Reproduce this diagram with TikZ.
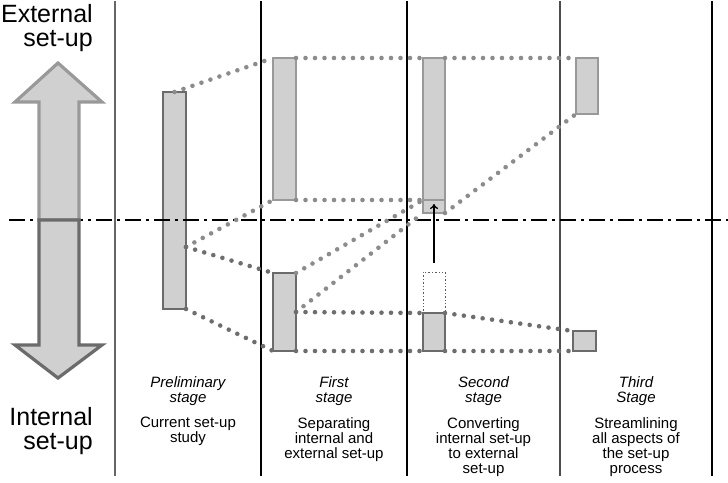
\documentclass[tikz,border=0pt]{standalone}
\usepackage{fontspec}
\setmainfont{Liberation Sans}
\usepackage{xcolor}
\usetikzlibrary{arrows.meta,calc}
\definecolor{boxfill}{HTML}{D0D0D0}
\definecolor{edgelight}{HTML}{999999}
\definecolor{edgedark}{HTML}{6B6B6B}
\definecolor{dotlight}{HTML}{8C8C8C}
\definecolor{dotdark}{HTML}{6E6E6E}
\tikzset{
  px/.style={x=1pt, y=-1pt},
  s box/.style={draw, line width=1.4pt, fill=boxfill, anchor=north west, inner sep=0pt, outer sep=0pt},
  s light/.style={s box, draw=edgelight},
  s dark/.style={s box, draw=edgedark},
  s ghost/.style={s box, fill=white, draw=black!65, dotted, line width=0.9pt},
  s dots/.style={line width=4.6pt, line cap=round, dash pattern=on 0pt off 9.5pt},
  s dotl/.style={s dots, dotlight},
  s dotd/.style={s dots, dotdark},
  s sep/.style={line width=1.2pt},
  s axis/.style={line width=1.8pt, dash pattern=on 16pt off 5pt on 3pt off 5pt},
  s title/.style={font=\fontsize{15}{15}\selectfont\itshape, align=center, anchor=north, inner sep=0pt},
  s desc/.style={font=\fontsize{15}{15}\selectfont, align=center, anchor=north, inner sep=0pt},
  s side/.style={font=\fontsize{25}{24}\selectfont, align=right, anchor=north east, inner sep=0pt},
  s big/.style={fill=boxfill, line width=3.2pt},
  s arr/.style={-{To[length=5pt,width=8pt]}, line width=1.3pt},
}

\begin{document}
\begin{tikzpicture}[px]
\useasboundingbox (0,0) rectangle (728,482);
% stage separators
\draw[s sep, black!60] (115,1) -- (115,476);
\draw[s sep] (261,1) -- (261,476);
\draw[s sep] (407,1) -- (407,476);
\draw[s sep, black!70] (560,1) -- (560,476);
\draw[s sep] (712,1) -- (712,476);
% set-up blocks
\node[s dark, minimum width=23, minimum height=217] (p) at (163,92) {};
\node[s light, minimum width=23, minimum height=142] (f1) at (273,58) {};
\node[s dark, minimum width=23, minimum height=78] (f2) at (273,273) {};
\node[s light, minimum width=22, minimum height=142] (s1) at (423,58) {};
\node[s light, minimum width=22, minimum height=13] (s2) at (423,200) {};
\node[s ghost, minimum width=22, minimum height=41] (s3) at (423,272) {};
\node[s dark, minimum width=22, minimum height=38] (s4) at (423,313) {};
\node[s light, minimum width=22, minimum height=56] (h1) at (576,58) {};
\node[s dark, minimum width=23, minimum height=20] (h2) at (573,331) {};
% internal / external border
\draw[s axis] (9,220) -- (728,220);
% dotted links
\coordinate (pm) at ($(p.north east)!0.714!(p.south east)$);
\draw[s dotl] (p.north) -- (f1.north west);
\draw[s dotl] (pm) -- (f1.south west);
\draw[s dotd] (pm) -- (f2.north west);
\draw[s dotd] (p.south east) -- (f2.south west);
\draw[s dotl] (f1.north east) -- (s1.north west);
\draw[s dotl] (f1.south east) -- (s1.south west);
\draw[s dotl] (f2.north east) -- (s2.north west);
\draw[s dotl] (f2.east) -- (s2.south west);
\draw[s dotd] (f2.east) -- (s4.north west);
\draw[s dotd] (f2.south east) -- (s4.south west);
\draw[s dotl] (s1.north east) -- (h1.north west);
\draw[s dotl] (s2.south east) -- (h1.south west);
\draw[s dotd] (s4.north east) -- (h2.north west);
\draw[s dotd] (s4.south east) -- (h2.south west);
% moving internal to external
\coordinate (up0) at ($(s3.north)+(0,-9)$);
\coordinate (up1) at ($(s2.north)+(0,4)$);
\draw[s arr] (up0) -- (up1);
% big double arrow
\filldraw[s big, draw=edgelight] (58,63) -- (102,102) -- (79,102) -- (79,220) -- (39,220) -- (39,102) -- (15,102) -- cycle;
\filldraw[s big, draw=edgedark] (39,220) -- (79,220) -- (79,345) -- (102,345) -- (58,378) -- (15,345) -- (39,345) -- cycle;
\node[s side] (ext) at (93,4) {External\\set-up};
\node[s side] (int) at (93,407) {Internal\\set-up};
% stage labels
\node[s title] (t0) at (188,376) {Preliminary\\stage};
\node[s desc] (d0) at (188,417) {Current set-up\\study};
\node[s title] (t1) at (334,376) {First\\stage};
\node[s desc] (d1) at (334,417) {Separating\\internal and\\external set-up};
\node[s title] (t2) at (483.5,376) {Second\\stage};
\node[s desc] (d2) at (483.5,417) {Converting\\internal set-up\\to external\\set-up};
\node[s title] (t3) at (636,376) {Third\\Stage};
\node[s desc] (d3) at (636,417) {Streamlining\\all aspects of\\the set-up\\process};
\end{tikzpicture}
\end{document}
